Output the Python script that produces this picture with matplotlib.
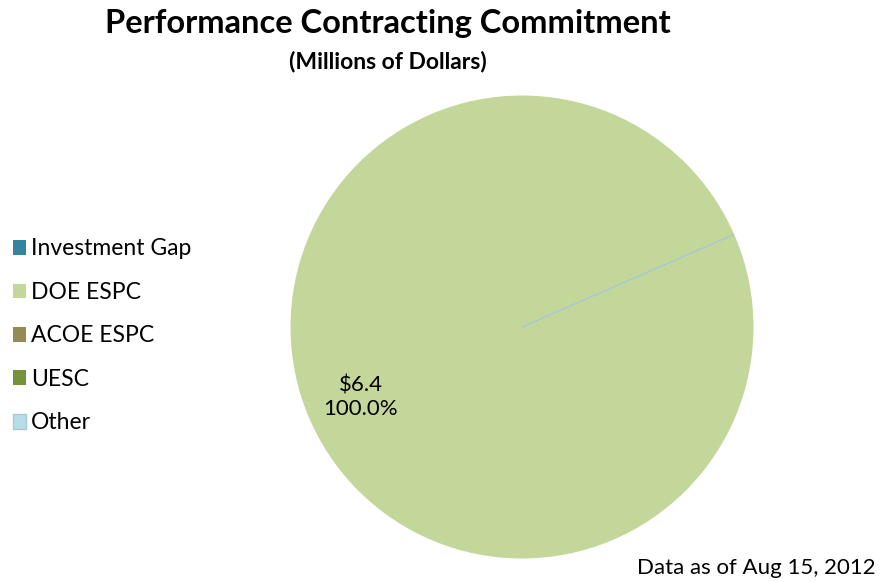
import matplotlib
matplotlib.use("Agg")
import matplotlib.pyplot as plt

# Data (millions of dollars)
categories = ["Investment Gap", "DOE ESPC", "ACOE ESPC", "UESC", "Other"]
values = [0.0, 6.4, 0.0, 0.0, 0.0]
colors = ["#31859C", "#C4D79B", "#948A54", "#76933C", "#B7DEE8"]

plt.rcParams["font.family"] = ["Lato", "DejaVu Sans"]

W, H = 880, 582
fig = plt.figure(figsize=(W / 100, H / 100), dpi=100)
fig.patch.set_facecolor("white")

# pie area: centre (522, 327), radius ~231 px
cx, cy, r = 522, 327, 231.5
ax = fig.add_axes([(cx - r) / W, (H - cy - r) / H, 2 * r / W, 2 * r / H])
ax.set_aspect("equal")
ax.axis("off")

total = sum(values)


def fmt(pct):
    if pct <= 0:
        return ""
    return f"${pct * total / 100:.1f}\n{pct:.1f}%"


wedges, texts, autotexts = ax.pie(
    values, colors=colors, startangle=23.6, counterclock=False,
    radius=1, center=(0, 0), autopct=fmt, pctdistance=0.76,
    wedgeprops=dict(linewidth=0), textprops=dict(fontsize=16, color="black"),
    frame=False,
)
ax.set_xlim(-1, 1)
ax.set_ylim(-1, 1)
for t in autotexts:
    t.set_linespacing(1.25)

# thin boundary left by the zero-size "Other" slice
wedges[4].set_edgecolor("#A9C8CF")
wedges[4].set_linewidth(1.0)

fig.legend(
    wedges, categories, loc="upper left", bbox_to_anchor=(0.004, 0.606),
    frameon=False, fontsize=16.5, handlelength=0.6, handleheight=0.6,
    handletextpad=0.2, labelspacing=0.98, borderaxespad=0,
)

fig.text(388 / W, 1 - 23 / H, "Performance Contracting Commitment",
         ha="center", va="center", fontsize=23.5, fontweight="bold")
fig.text(388 / W, 1 - 61 / H, "(Millions of Dollars)",
         ha="center", va="center", fontsize=16.5, fontweight="bold")
fig.text(876 / W, 1 - 568 / H, "Data as of Aug 15, 2012",
         ha="right", va="center", fontsize=16)

fig.savefig("out.png", dpi=100, facecolor=fig.get_facecolor())
